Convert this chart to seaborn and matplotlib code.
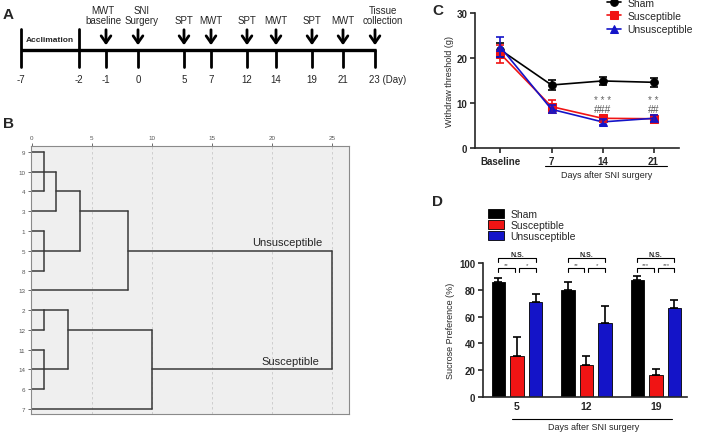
import numpy as np
import pandas as pd
import seaborn as sb
import matplotlib.pyplot as plt

# ---------------- data ----------------
# panel A: experimental timeline
timeline_days = ['-7', '-2', '-1', '0', '5', '7', '12', '14', '19', '21', '23']
timeline_events = ['', '', 'MWT\nbaseline', 'SNI\nSurgery', 'SPT', 'MWT', 'SPT', 'MWT', 'SPT', 'MWT', 'Tissue\ncollection']

# panel B: hierarchical clustering (rescaled distance)
dendro_leaves = ['9', '10', '4', '3', '1', '5', '8', '13', '2', '12', '11', '14', '6', '7']
# (child node ids, merge distance); leaves are 0..13, each merge gets the next id
dendro_merges = [([0, 1, 2], 1), ([14, 3], 2), ([4, 5, 6], 1), ([15, 16], 4), ([17, 7], 8),
                 ([8, 9], 1), ([10, 11, 12], 1), ([19, 20], 3), ([21, 13], 10), ([18, 22], 25)]

groups = ['Sham', 'Susceptible', 'Unsusceptible']

# panel C: mechanical withdrawal threshold
mwt_days = ['Baseline', '7', '14', '21']
sham_mwt = [21.8, 14.0, 14.9, 14.6]
sham_mwt_err = [1.5, 1.1, 0.8, 1.0]
sus_mwt = [20.9, 9.2, 6.6, 6.5]
sus_mwt_err = [2.0, 1.4, 0.8, 0.9]
uns_mwt = [22.4, 8.6, 5.8, 6.6]
uns_mwt_err = [2.2, 0.9, 0.7, 0.8]

# panel D: sucrose preference
spt_days = ['5', '12', '19']
sham_spt = [85.5, 80.0, 87.3]
sham_spt_err = [3.2, 6.0, 3.2]
sus_spt = [30.8, 23.9, 16.7]
sus_spt_err = [13.7, 7.0, 4.2]
uns_spt = [71.1, 55.2, 66.4]
uns_spt_err = [5.8, 13.0, 6.2]
spt_sig = [('**', '*'), ('**', '*'), ('***', '***')]

colors = {'Sham': 'black', 'Susceptible': '#f01414', 'Unsusceptible': '#1414c8'}

sb.set_style('ticks')
plt.rcParams['font.family'] = ['Liberation Sans', 'DejaVu Sans']
plt.rcParams['axes.linewidth'] = 1.2

fig = plt.figure(figsize=(7.09, 4.35), dpi=100)

# ---------------- panel A ----------------
axA = fig.add_axes([0, 1 - 100 / 435, 400 / 709, 100 / 435])
axA.set_xlim(0, 400)
axA.set_ylim(100, 0)
axA.axis('off')
timeline_x = [21, 79, 106, 138, 184, 211, 247, 276, 312, 343, 375]
label_shift = {'-1': -3, '0': 4, '23': 8}
axA.plot([timeline_x[0], timeline_x[-1] + 1], [51, 51], color='black', lw=2.4, solid_capstyle='butt')
for x, day, ev in zip(timeline_x, timeline_days, timeline_events):
    if ev == '':
        axA.plot([x, x], [30, 68], color='black', lw=2)
    else:
        axA.plot([x, x], [51, 68], color='black', lw=2)
        axA.annotate('', xy=(x, 49), xytext=(x, 28),
                     arrowprops=dict(arrowstyle='->,head_length=0.5,head_width=0.35', lw=2, color='black'))
        axA.text(x + label_shift.get(day, 0), 26.5, ev, ha='center', va='bottom', fontsize=7, linespacing=1.05)
    if day == '23':
        axA.text(x - 6, 80, '23 (Day)', ha='left', va='center', fontsize=7)
    else:
        axA.text(x, 80, day, ha='center', va='center', fontsize=7)
axA.text(50, 41, 'Acclimation', ha='center', va='center', fontsize=6, fontweight='bold')

# ---------------- panel B ----------------
axB = fig.add_axes([31 / 709, 1 - 415 / 435, 318 / 709, 268 / 435])
axB.set_facecolor('#efefef')
node_row = {i: i for i in range(len(dendro_leaves))}
node_x = {i: 0 for i in range(len(dendro_leaves))}
seg_color = '#3a3a3a'
for k, (children, h) in enumerate(dendro_merges):
    rows = [node_row[c] for c in children]
    for c in children:
        axB.plot([node_x[c], h], [node_row[c], node_row[c]], color=seg_color, lw=1.1)
    axB.plot([h, h], [min(rows), max(rows)], color=seg_color, lw=1.1)
    nid = len(dendro_leaves) + k
    node_row[nid] = (min(rows) + max(rows)) // 2
    node_x[nid] = h
axB.set_xlim(-0.05, 26.4)
axB.set_ylim(13.25, -0.3)
axB.xaxis.tick_top()
axB.set_xticks([0, 5, 10, 15, 20, 25])
axB.set_yticks(range(len(dendro_leaves)))
axB.set_yticklabels(dendro_leaves)
axB.tick_params(labelsize=4.5, colors='#555555', length=2, width=0.6, pad=2)
for x in [5, 10, 15, 20, 25]:
    axB.axvline(x, color='#c9c9c9', lw=0.6, ls=(0, (3, 3)), zorder=0)
for s in axB.spines.values():
    s.set_color('#8a8a8a')
    s.set_linewidth(0.8)
axB.text(24.2, 4.55, 'Unsusceptible', ha='right', va='center', fontsize=8)
axB.text(23.9, 10.55, 'Susceptible', ha='right', va='center', fontsize=8)

# ---------------- panel C ----------------
axC = fig.add_axes([475 / 709, 1 - 149 / 435, 204 / 709, 135 / 435])
mwt = pd.DataFrame({
    'day': list(range(len(mwt_days))) * 3,
    'value': sham_mwt + sus_mwt + uns_mwt,
    'err': sham_mwt_err + sus_mwt_err + uns_mwt_err,
    'group': [g for g in groups for _ in mwt_days],
})
sb.lineplot(data=mwt, x='day', y='value', hue='group', style='group', hue_order=groups,
            palette=colors, markers={'Sham': 'o', 'Susceptible': 's', 'Unsusceptible': '^'},
            dashes=False, markersize=5.5, lw=1.2, markeredgecolor=None, ax=axC)
for g in groups:
    sub = mwt[mwt['group'] == g]
    axC.errorbar(sub['day'], sub['value'], yerr=sub['err'], fmt='none', ecolor=colors[g],
                 elinewidth=1.2, capsize=3, capthick=1.2)
axC.set_xlim(-0.5, 3.5)
axC.set_ylim(0, 30)
axC.set_yticks([0, 10, 20, 30])
axC.set_xticks(range(len(mwt_days)))
axC.set_xticklabels(mwt_days)
axC.tick_params(labelsize=7, length=3.5, width=1.2, pad=2)
for lab in axC.get_xticklabels() + axC.get_yticklabels():
    lab.set_fontweight('bold')
axC.set_xlabel('')
axC.set_ylabel('Withdraw threshold (g)', fontsize=6.5, labelpad=2)
sb.despine(ax=axC)
axC.text(2, 10.7, '* * *', ha='center', va='center', fontsize=7, color='#666666')
axC.text(2, 8.6, '###', ha='center', va='center', fontsize=7.5, color='#555555')
axC.text(3, 10.7, '* *', ha='center', va='center', fontsize=7, color='#666666')
axC.text(3, 8.6, '##', ha='center', va='center', fontsize=7.5, color='#555555')
axC.plot([0.88, 3.27], [-0.133, -0.133], color='black', lw=0.8,
         transform=axC.get_xaxis_transform(), clip_on=False)
axC.text(2.08, -0.16, 'Days after SNI surgery', ha='center', va='top', fontsize=6.5,
         transform=axC.get_xaxis_transform())
h, l = axC.get_legend_handles_labels()
axC.legend(h, l, loc='upper left', bbox_to_anchor=(0.62, 1.15), frameon=False, fontsize=7.5,
           handlelength=1.4, labelspacing=0.3, borderpad=0, handletextpad=0.6)

# ---------------- panel D ----------------
axD = fig.add_axes([483 / 709, 1 - 398 / 435, 204 / 709, 134 / 435])
spt = pd.DataFrame({
    'day': spt_days * 3,
    'value': sham_spt + sus_spt + uns_spt,
    'err': sham_spt_err + sus_spt_err + uns_spt_err,
    'group': [g for g in groups for _ in spt_days],
})
sb.barplot(data=spt, x='day', y='value', hue='group', hue_order=groups, palette=colors,
           width=0.8, gap=0.27, errorbar=None, saturation=1, edgecolor='black', linewidth=0.6, ax=axD)
centers = {}
for g, cont in zip(groups, axD.containers):
    xs = [b.get_x() + b.get_width() / 2 for b in cont]
    ys = [b.get_height() for b in cont]
    centers[g] = xs
    err = spt[spt['group'] == g]['err'].values
    axD.errorbar(xs, ys, yerr=[np.zeros(len(err)), err], fmt='none', ecolor='black',
                 elinewidth=1.2, capsize=3, capthick=1.2, zorder=1)
for j, (s1, s2) in enumerate(spt_sig):
    xb, xr, xu = centers['Sham'][j], centers['Susceptible'][j], centers['Unsusceptible'][j]
    for x0, x1, txt in [(xb, xr - 0.03, s1), (xr + 0.03, xu, s2)]:
        axD.plot([x0, x0, x1, x1], [93, 96.5, 96.5, 93], color='black', lw=0.8, clip_on=False)
        axD.text((x0 + x1) / 2, 96.8, txt, ha='center', va='bottom', fontsize=4.5, color='#555555')
    axD.plot([xb, xb, xu, xu], [100.5, 103.5, 103.5, 100.5], color='black', lw=0.8, clip_on=False)
    axD.text((xb + xu) / 2, 104, 'N.S.', ha='center', va='bottom', fontsize=5, fontweight='bold')
axD.set_xlim(-0.49, 2.45)
axD.set_ylim(0, 100)
axD.set_yticks([0, 20, 40, 60, 80, 100])
axD.tick_params(axis='y', labelsize=7, length=3.5, width=1.2, pad=2)
axD.tick_params(axis='x', labelsize=7.5, length=0, pad=3)
for lab in axD.get_xticklabels() + axD.get_yticklabels():
    lab.set_fontweight('bold')
axD.set_xlabel('')
axD.set_ylabel('Sucrose Preference (%)', fontsize=6.5, labelpad=3)
sb.despine(ax=axD)
axD.plot([-0.07, 2.24], [-0.164, -0.164], color='black', lw=0.8,
         transform=axD.get_xaxis_transform(), clip_on=False)
axD.text(1.1, -0.19, 'Days after SNI surgery', ha='center', va='top', fontsize=6.5,
         transform=axD.get_xaxis_transform())
h, l = axD.get_legend_handles_labels()
axD.legend(h, l, loc='upper left', bbox_to_anchor=(0.0, 1.44), frameon=False, fontsize=7.5,
           handlelength=1.5, handleheight=0.9, labelspacing=0.1, borderpad=0, handletextpad=0.6)

# panel letters
for lab, x, y in [('A', 3, 8), ('B', 3, 117), ('C', 432, 4), ('D', 432, 195)]:
    fig.text(x / 709, 1 - y / 435, lab, fontsize=11, fontweight='bold', va='top', ha='left')

plt.savefig('out.png', dpi=100)
plt.close()
